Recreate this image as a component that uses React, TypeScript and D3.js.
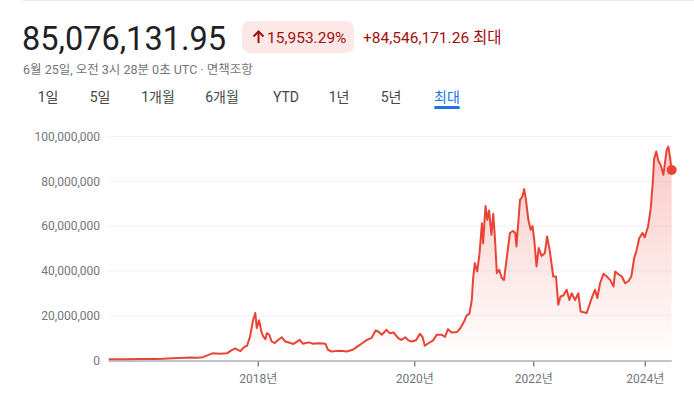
import { scaleLinear, line, area, format, curveLinear } from "d3";

// decimal year of each sample
const years = [
  2016.0, 2016.22, 2016.42, 2016.62, 2016.73, 2016.85, 2016.95, 2017.09, 2017.18, 2017.26,
  2017.31, 2017.39, 2017.49, 2017.58, 2017.64, 2017.69, 2017.76, 2017.81, 2017.85, 2017.89,
  2017.93, 2017.96, 2017.98, 2018.01, 2018.04, 2018.06, 2018.09, 2018.11, 2018.14, 2018.17,
  2018.21, 2018.25, 2018.3, 2018.34, 2018.41, 2018.45, 2018.49, 2018.53, 2018.57, 2018.61,
  2018.65, 2018.7, 2018.76, 2018.83, 2018.86, 2018.89, 2018.94, 2019.01, 2019.08, 2019.13,
  2019.21, 2019.27, 2019.32, 2019.39, 2019.45, 2019.5, 2019.53, 2019.58, 2019.64, 2019.68,
  2019.73, 2019.79, 2019.83, 2019.88, 2019.92, 2019.96, 2020.02, 2020.09, 2020.13, 2020.17,
  2020.23, 2020.31, 2020.37, 2020.45, 2020.51, 2020.56, 2020.62, 2020.71, 2020.77, 2020.83,
  2020.87, 2020.92, 2020.96, 2020.98, 2021.01, 2021.05, 2021.09, 2021.13, 2021.15, 2021.19,
  2021.22, 2021.25, 2021.29, 2021.32, 2021.35, 2021.38, 2021.42, 2021.46, 2021.5, 2021.55,
  2021.6, 2021.65, 2021.69, 2021.71, 2021.77, 2021.81, 2021.84, 2021.87, 2021.91, 2021.95,
  2021.98, 2022.01, 2022.05, 2022.09, 2022.14, 2022.2, 2022.24, 2022.29, 2022.35, 2022.4,
  2022.44, 2022.48, 2022.53, 2022.59, 2022.64, 2022.68, 2022.74, 2022.8, 2022.84, 2022.95,
  2023.0, 2023.04, 2023.1, 2023.14, 2023.19, 2023.25, 2023.31, 2023.37, 2023.43, 2023.46,
  2023.52, 2023.58, 2023.64, 2023.7, 2023.75, 2023.8, 2023.84, 2023.89, 2023.95, 2023.99,
  2024.05, 2024.1, 2024.14, 2024.16, 2024.2, 2024.24, 2024.28, 2024.33, 2024.39, 2024.42,
  2024.45, 2024.482,
];

// price in millions of KRW
const priceMillions = [
  0.53, 0.6, 0.65, 0.7, 0.8, 1.0, 1.1, 1.3, 1.2, 1.5,
  2.2, 3.2, 3.0, 3.2, 4.5, 5.4, 4.2, 6.0, 6.6, 10.7,
  18.0, 21.2, 14.5, 18.0, 12.8, 11.0, 9.5, 12.2, 11.5, 8.5,
  7.8, 9.0, 10.4, 8.6, 7.8, 7.4, 8.3, 9.2, 7.5, 7.8,
  8.1, 7.5, 7.7, 7.6, 7.4, 4.8, 4.0, 4.3, 4.2, 4.0,
  4.8, 6.3, 7.5, 9.2, 10.1, 13.4, 13.0, 11.5, 13.7, 12.2,
  12.5, 10.0, 9.2, 10.4, 9.0, 8.5, 9.0, 11.9, 10.6, 6.6,
  7.7, 9.0, 11.5, 11.5, 10.6, 14.0, 12.5, 12.7, 14.5, 17.4,
  20.0, 20.9, 27.1, 36.0, 43.5, 39.7, 47.9, 61.3, 52.4, 69.0,
  62.8, 67.0, 56.1, 65.5, 54.0, 39.0, 40.5, 37.0, 35.9, 46.4,
  56.9, 57.8, 57.0, 50.9, 71.7, 73.2, 76.5, 71.7, 62.8, 58.3,
  60.0, 53.9, 42.0, 50.2, 46.7, 48.0, 55.4, 48.7, 37.5, 37.5,
  24.9, 28.6, 29.0, 31.6, 27.0, 30.0, 27.0, 30.0, 21.9, 21.2,
  24.9, 27.9, 31.6, 27.9, 34.5, 38.7, 37.5, 36.0, 33.0, 39.7,
  38.5, 37.5, 34.5, 35.5, 37.5, 45.7, 48.7, 54.6, 56.9, 55.0,
  59.8, 68.0, 80.7, 89.9, 93.3, 89.0, 87.4, 82.9, 94.0, 95.5,
  91.0, 85.076,
];

const yTicks = [0, 20000000, 40000000, 60000000, 80000000, 100000000];
const xTickYears = [2018, 2020, 2022, 2024];
const xTickLabels = ["2018년", "2020년", "2022년", "2024년"];
const rangeTabs = ["1일", "5일", "1개월", "6개월", "YTD", "1년", "5년", "최대"];

// the chart's time axis is not uniform: breakpoints and their share of the width
const xBreakYears = [2016, 2018, 2020, 2022, 2024, 2024.482];
const xBreakShare = [0, 0.2657, 0.5435, 0.7549, 0.9531, 1];

const W = 694;
const H = 396;
const FONT = "Roboto, Arial, 'Noto Sans CJK KR', sans-serif";
const RED = "#ea4335";

export default function App() {
  const plotLeft = 108.7;
  const plotRight = 671.7;
  const plotTop = 136.5;
  const plotBottom = 360.5;

  const x = scaleLinear()
    .domain(xBreakYears)
    .range(xBreakShare.map((s) => plotLeft + s * (plotRight - plotLeft)));
  const y = scaleLinear().domain([0, 100000000]).range([plotBottom, plotTop]);

  const pts = years.map((yr, i) => ({ yr, v: priceMillions[i] * 1e6 }));
  const linePath = line<any>()
    .x((d) => x(d.yr))
    .y((d) => y(d.v))
    .curve(curveLinear)(pts);
  const areaPath = area<any>()
    .x((d) => x(d.yr))
    .y0(plotBottom)
    .y1((d) => y(d.v))(pts);
  const last = pts[pts.length - 1];
  const fmt = format(",");

  const tabX = [48, 100, 158, 222, 286, 339, 391, 447];

  return (
    <svg
      width={W}
      height={H}
      style={{ position: "absolute", left: 0, top: 0, fontFamily: FONT }}
    >
      <defs>
        <linearGradient id="fillGrad" gradientUnits="userSpaceOnUse" x1="0" y1={plotTop} x2="0" y2={plotBottom}>
          <stop offset="0%" stopColor={RED} stopOpacity={0.3} />
          <stop offset="100%" stopColor={RED} stopOpacity={0} />
        </linearGradient>
      </defs>
      <rect width={W} height={H} fill="#fff" />
      <line x1={23} x2={W} y1={0.5} y2={0.5} stroke="#e8eaed" />

      {/* header */}
      <text x={22} y={49.5} fontSize={32.5} fill="#202124">85,076,131.95</text>
      <rect x={242} y={21} width={112} height={32} rx={8} fill="#fce8e6" />
      <path d="M258.5,43 V31.5 M253.5,36.5 L258.5,31.5 L263.5,36.5" stroke="#a50e0e" strokeWidth={2} fill="none" />
      <text x={267} y={43} fontSize={15.5} fill="#a50e0e">15,953.29%</text>
      <text x={363} y={43} fontSize={15.5} fill="#a50e0e">+84,546,171.26 최대</text>
      <text x={23} y={74} fontSize={12.5} fill="#70757a">6월 25일, 오전 3시 28분 0초 UTC · 면책조항</text>

      {/* range tabs */}
      {rangeTabs.map((t, i) => (
        <text
          key={t}
          x={tabX[i]}
          y={102}
          fontSize={14}
          textAnchor="middle"
          fontWeight={400}
          fill={i === rangeTabs.length - 1 ? "#1a73e8" : "#444746"}
        >
          {t}
        </text>
      ))}
      <rect x={434} y={106} width={26} height={3} rx={1.5} fill="#1a73e8" />

      {/* grid + y labels */}
      {yTicks.map((t) => (
        <g key={t}>
          {t > 0 && <line x1={plotLeft} x2={plotRight} y1={y(t)} y2={y(t)} stroke="#f1f3f4" />}
          <text x={100} y={y(t)} dy="0.35em" fontSize={12} textAnchor="end" fill="#70757a">
            {fmt(t)}
          </text>
        </g>
      ))}

      {/* series */}
      <path d={areaPath!} fill="url(#fillGrad)" />
      <path d={linePath!} fill="none" stroke={RED} strokeWidth={2} strokeLinejoin="round" />
      <circle cx={x(last.yr)} cy={y(last.v)} r={5} fill={RED} />

      {/* x axis */}
      <line x1={plotLeft} x2={plotRight} y1={plotBottom + 0.5} y2={plotBottom + 0.5} stroke="#80868b" />
      {xTickYears.map((yr, i) => (
        <g key={yr} transform={`translate(${x(yr)},0)`}>
          <line y1={plotBottom + 1} y2={plotBottom + 6} stroke="#80868b" strokeWidth={1.5} />
          <text y={383} fontSize={12} textAnchor="middle" fill="#70757a">
            {xTickLabels[i]}
          </text>
        </g>
      ))}
    </svg>
  );
}
